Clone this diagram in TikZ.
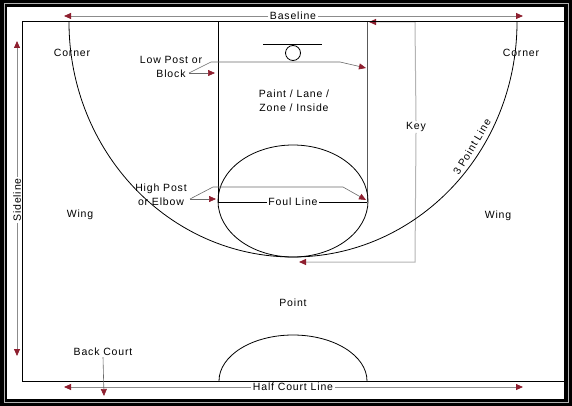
\documentclass[tikz,border=0pt]{standalone}
\usepackage{fontspec}
\setmainfont{Liberation Sans}[LetterSpace=8]
\usetikzlibrary{arrows.meta}
\definecolor{tipred}{HTML}{8E1F2F}
\definecolor{leadgray}{HTML}{6A6A6A}
\definecolor{keygray}{HTML}{B4B4B4}
\definecolor{arrgray}{HTML}{8C8C8C}
\tikzset{
  lbl/.style={font=\fontsize{10.5}{14}\selectfont, inner sep=1pt, align=center},
  bglbl/.style={lbl, fill=white, inner sep=1.5pt},
  court/.style={line width=1pt, black},
  lead/.style={line width=0.6pt, leadgray},
  keyl/.style={line width=1pt, keygray},
  dim/.style={line width=0.8pt, arrgray},
  tipend/.style={-{Triangle[length=7pt,width=6pt,color=tipred]}}
}
\begin{document}
\begin{tikzpicture}[x=1pt,y=-1pt]
\useasboundingbox (0,0) rectangle (572,406);
% frame
\fill[black] (0,0) rectangle (572,406);
\draw[line width=1pt, gray!60] (4,4) rectangle (568,402);
\fill[white] (7,7) rectangle (564,399);

% key indicator (drawn below court lines)
\node[lbl] (key) at (416,127) {Key};
\draw[keyl, tipend] (key.north) -- (415,22) -- (369,22);
\draw[keyl, tipend] (key.south) -- (415,262) -- (299,262);

% court
\draw[court] (564,22) -- (22,22) -- (22,381) -- (564,381);
% three point line
\draw[line width=0.8pt] (69,22) arc[start angle=180, end angle=0, x radius=224, y radius=235];
% lane
\draw[court] (218,22) -- (218,202) -- (367,202);
\draw[line width=1pt, gray!70!black] (367,22) -- (367,202);
% free throw circle
\draw[line width=0.8pt] (293,201) ellipse [x radius=75, y radius=56];
% backboard and rim
\draw[line width=1pt] (263,45) -- (322,45);
\draw[line width=0.8pt] (293,53) circle [radius=7.5];
% half court circle
\draw[line width=0.8pt] (219,381) arc[start angle=180, end angle=360, x radius=74, y radius=46];

% baseline dimension
\node[bglbl] (base) at (293,16) {Baseline};
\draw[dim, tipend] (base.west) -- (64,16);
\draw[dim, tipend] (base.east) -- (523,16);
% half court dimension
\node[bglbl] (half) at (293,387) {Half Court Line};
\draw[dim, tipend] (half.west) -- (64,387);
\draw[dim, tipend] (half.east) -- (523,387);
% sideline dimension
\node[bglbl, rotate=90] (side) at (17,200) {Sideline};
\draw[dim, tipend] (side.east) -- (17,41);
\draw[dim, tipend] (side.west) -- (17,356);
% foul line label
\node[bglbl] (foul) at (293,202) {Foul Line};

% labels
\node[lbl] (cornl) at (72,53) {Corner};
\node[lbl] (cornr) at (521,53) {Corner};
\node[lbl] (wingl) at (80,215) {Wing};
\node[lbl] (wingr) at (498,216) {Wing};
\node[lbl] (point) at (293,303) {Point};
\node[lbl] (paint) at (294,101) {Paint / Lane /\\Zone / Inside};
\node[lbl, rotate=59] (three) at (472,147) {3 Point Line};
\node[lbl] (lowpost) at (171,67) {Low Post or\\Block};
\node[lbl] (highpost) at (161,195) {High Post\\or Elbow};
\node[lbl] (back) at (103,352) {Back Court};

% low post leaders
\coordinate (lp0) at (189,73);
\draw[lead, tipend] (lp0) -- (211,62) -- (340,62) -- (366,68);
\draw[lead, tipend] (lp0) -- (215,73);
% high post leaders
\coordinate (hp0) at (190,199);
\draw[lead, tipend] (hp0) -- (213,187) -- (343,187) -- (366,200);
\draw[lead, tipend] (hp0) -- (216,199);
% back court arrow
\draw[lead, tipend] (back.south) -- (104,396);
\end{tikzpicture}
\end{document}
